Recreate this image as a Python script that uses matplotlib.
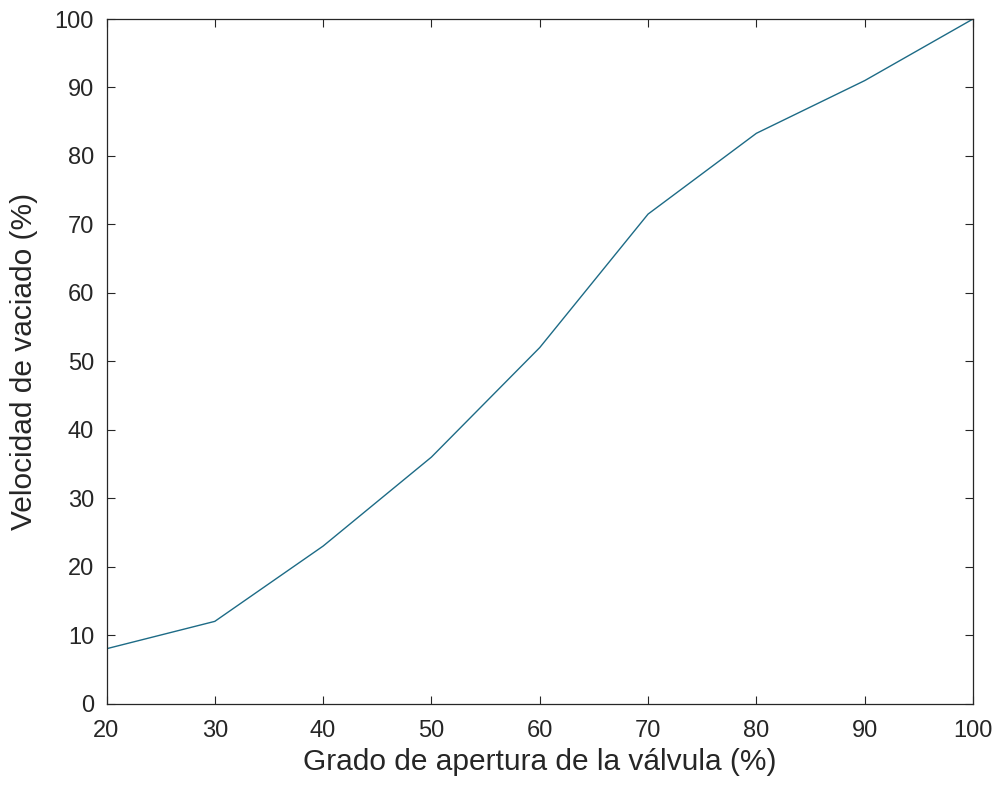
import matplotlib
matplotlib.use("Agg")
import matplotlib.pyplot as plt

plt.rcParams['font.family'] = ['Liberation Sans', 'DejaVu Sans']

apertura = [20, 30, 40, 50, 60, 70, 80, 90, 100]
velocidad = [8, 12, 23, 36, 52, 71.5, 83.3, 91, 100]

x_ticks = [20, 30, 40, 50, 60, 70, 80, 90, 100]
y_ticks = [0, 10, 20, 30, 40, 50, 60, 70, 80, 90, 100]

ink = '#262626'

fig = plt.figure(figsize=(9.98, 7.92), dpi=100)
ax = fig.add_axes([106.5 / 998, 1 - 703.5 / 792, (973 - 106.5) / 998, (703.5 - 19) / 792])

ax.plot(apertura, velocidad, color='#1d6b86', linewidth=1.0)

ax.set_xlim(20, 100)
ax.set_ylim(0, 100)
ax.set_xticks(x_ticks)
ax.set_yticks(y_ticks)
ax.tick_params(direction='in', top=True, right=True, length=6, width=0.8,
               colors=ink, labelsize=17)
ax.tick_params(axis='x', pad=12)
ax.tick_params(axis='y', pad=9)
for s in ax.spines.values():
    s.set_color(ink)
    s.set_linewidth(0.9)

ax.set_xlabel('Grado de apertura de la válvula (%)', fontsize=21.5, color=ink)
ax.set_ylabel('Velocidad de vaciado (%)', fontsize=21.5, color=ink)
ax.xaxis.label.set_va('center')
ax.yaxis.label.set_va('center')
ax.xaxis.set_label_coords(0.5, (703.5 - 762) / 684.5)
ax.yaxis.set_label_coords((24 - 106.5) / 866.5, 0.5)

fig.savefig('out.png', dpi=100, facecolor='white')
